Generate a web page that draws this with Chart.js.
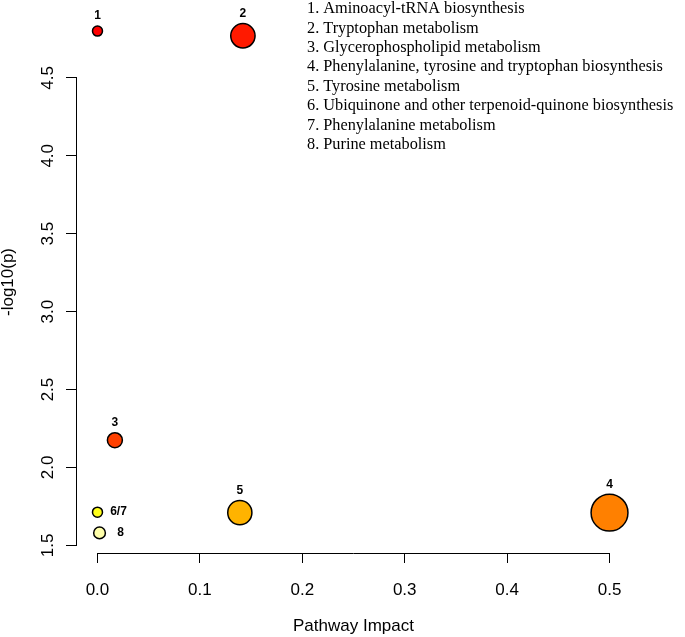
<html>
  <head>
    <style>
      body { margin: 0; background: #fff; }
    </style>
    <script type="text/javascript" src="https://cdn.jsdelivr.net/npm/chart.js@4/dist/chart.umd.min.js"></script>
  </head>
  <body>
    <canvas id="impact" width="685" height="637"></canvas>
    <script type="text/javascript">

var pointLabels = ["1", "2", "3", "4", "5", "6/7", "8"]
var impact = [0.0, 0.142, 0.017, 0.5, 0.139, 0.0, 0.002]
var logp = [4.80, 4.77, 2.175, 1.71, 1.71, 1.713, 1.58]
var pathways = [
  "1. Aminoacyl-tRNA biosynthesis",
  "2. Tryptophan metabolism",
  "3. Glycerophospholipid metabolism",
  "4. Phenylalanine, tyrosine and tryptophan biosynthesis",
  "5. Tyrosine metabolism",
  "6. Ubiquinone and other terpenoid-quinone biosynthesis",
  "7. Phenylalanine metabolism",
  "8. Purine metabolism"
]
var xTicks = [0.0, 0.1, 0.2, 0.3, 0.4, 0.5]
var yTicks = [1.5, 2.0, 2.5, 3.0, 3.5, 4.0, 4.5]

// styles (kept apart from the values)
var fillColors = ["#ff0000", "#ff1a00", "#ff4000", "#ff8000", "#ffb300", "#ffff1a", "#ffffaa"]
var labelSide = ["top", "top", "top", "top", "top", "right", "right"]

function radius_of(v) {
  return 5 + 19 * Math.sqrt(v)
}

var points = []
for (var i = 0; i < impact.length; i++) {
  points.push({x: impact[i], y: logp[i], r: radius_of(impact[i])})
}

var sansFont = "'Liberation Sans', Arial, sans-serif"

// R style axis lines running only between first and last tick, plus texts
var extras = {
  id: "extras",
  afterDraw: function(chart) {
    var ctx = chart.ctx
    var xs = chart.scales.x
    var ys = chart.scales.y
    var area = chart.chartArea
    ctx.save()
    ctx.strokeStyle = "#000"
    ctx.lineWidth = 1
    ctx.beginPath()
    ctx.moveTo(xs.getPixelForValue(xTicks[0]), area.bottom + 0.5)
    ctx.lineTo(xs.getPixelForValue(xTicks[xTicks.length - 1]), area.bottom + 0.5)
    ctx.moveTo(area.left - 0.5, ys.getPixelForValue(yTicks[0]))
    ctx.lineTo(area.left - 0.5, ys.getPixelForValue(yTicks[yTicks.length - 1]))
    ctx.stroke()

    // point numbers
    ctx.fillStyle = "#000"
    ctx.font = "bold 12px " + sansFont
    ctx.textAlign = "center"
    ctx.textBaseline = "middle"
    var meta = chart.getDatasetMeta(0)
    meta.data.forEach(function(el, k) {
      var r = points[k].r
      if (labelSide[k] == "top") {
        ctx.fillText(pointLabels[k], el.x, el.y - r - 10)
      } else {
        ctx.fillText(pointLabels[k], el.x + 21, el.y)
      }
    })

    // pathway list
    ctx.font = "16.3px 'Liberation Serif', 'Times New Roman', serif"
    ctx.textAlign = "left"
    for (var j = 0; j < pathways.length; j++) {
      ctx.fillText(pathways[j], 307, 9 + j * 19.4)
    }
    ctx.restore()
  }
}

var ctx = document.getElementById("impact").getContext("2d")

var config = {
  type: "bubble",
  data: {
    datasets: [{
      data: points,
      backgroundColor: fillColors,
      borderColor: "#000",
      borderWidth: 1.5,
      hoverBorderWidth: 1.5
    }]
  },
  options: {
    responsive: false,
    animation: false,
    devicePixelRatio: 1,
    layout: { autoPadding: false, padding: { left: 0, top: 11, right: 55, bottom: 0 } },
    plugins: {
      legend: { display: false },
      tooltip: { enabled: false }
    },
    scales: {
      x: {
        type: "linear",
        min: -0.02,
        max: 0.52,
        afterBuildTicks: function(scale) {
          scale.ticks = xTicks.map(function(v) { return {value: v} })
        },
        afterFit: function(scale) {
          scale.height = 84
          scale.paddingLeft = 0
          scale.paddingRight = 0
        },
        border: { display: false },
        grid: { drawOnChartArea: false, drawTicks: true, tickLength: 10, color: "#000" },
        ticks: {
          color: "#000",
          padding: 17,
          font: { family: sansFont, size: 17 },
          callback: function(v) { return v.toFixed(1) }
        },
        title: {
          display: true,
          text: "Pathway Impact",
          color: "#000",
          font: { family: sansFont, size: 17, lineHeight: 1.2 },
          padding: { top: 0, bottom: 0 }
        }
      },
      y: {
        type: "linear",
        min: 1.451,
        max: 4.929,
        afterBuildTicks: function(scale) {
          scale.ticks = yTicks.map(function(v) { return {value: v} })
        },
        afterFit: function(scale) {
          scale.width = 77
          scale.paddingTop = 0
          scale.paddingBottom = 0
        },
        border: { display: false },
        grid: { drawOnChartArea: false, drawTicks: true, tickLength: 11, color: "#000" },
        ticks: {
          color: "#000",
          padding: 6,
          minRotation: 90,
          maxRotation: 90,
          crossAlign: "center",
          font: { family: sansFont, size: 17 },
          callback: function(v) { return v.toFixed(1) }
        },
        title: {
          display: true,
          text: "-log10(p)",
          color: "#000",
          font: { family: sansFont, size: 17, lineHeight: 1 },
          padding: { top: 0, bottom: 0 }
        }
      }
    }
  },
  plugins: [extras]
}

var chart = new Chart(ctx, config)

    </script>
  </body>
</html>
